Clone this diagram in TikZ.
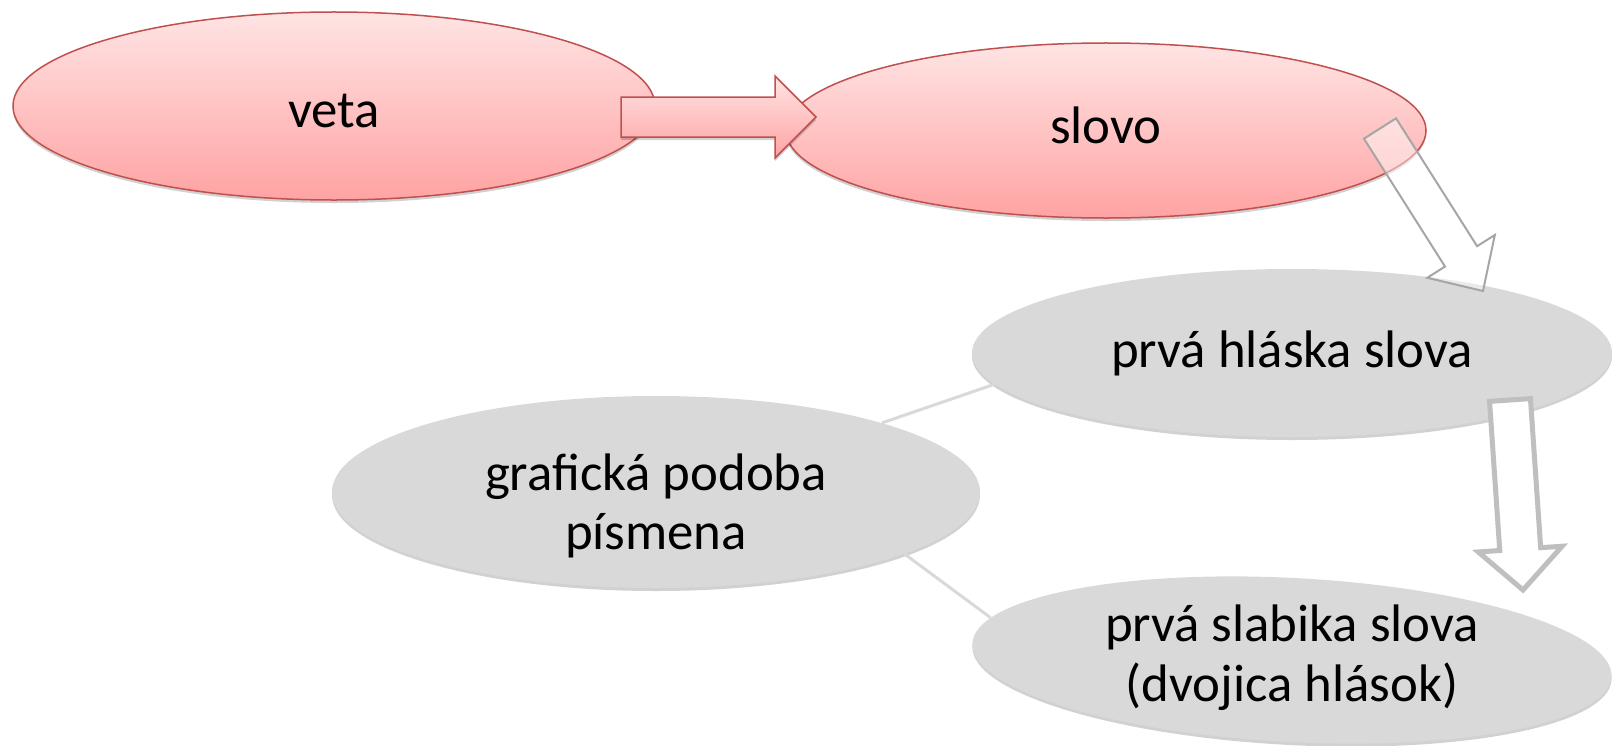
\documentclass[tikz,border=0pt]{standalone}
\usepackage{fontspec}
\setmainfont{Carlito}
\usetikzlibrary{calc,shapes.geometric,shadows}
\definecolor{pinktop}{RGB}{255,228,228}
\definecolor{pinkbot}{RGB}{255,163,163}
\definecolor{redline}{RGB}{192,80,77}
\definecolor{grayfill}{RGB}{217,217,217}
\definecolor{arrgray}{RGB}{166,166,166}
\definecolor{arrgrayb}{RGB}{191,191,191}
\definecolor{linkgray}{RGB}{217,217,217}
% block arrow: style, start, end, shaft half-width, head half-width, head length
\newcommand\blockarr[6]{%
  \coordinate (#2-hb) at ($(#3)!#6!(#2)$);
  \path[#1] ($(#2)!#4!90:(#3)$) -- ($(#2-hb)!#4!-90:(#2)$) -- ($(#2-hb)!#5!-90:(#2)$)
    -- (#3) -- ($(#2-hb)!#5!90:(#2)$) -- ($(#2-hb)!#4!90:(#2)$) -- ($(#2)!#4!-90:(#3)$) -- cycle;}
\tikzset{
  softshadow/.style={drop shadow={shadow xshift=0bp, shadow yshift=-1.5bp, opacity=0.18, fill=black}},
  lbl/.style={font=\fontsize{26.5}{30}\selectfont, align=center, text=black, inner sep=0pt},
  pinkell/.style={ellipse, draw=redline, line width=0.75bp, top color=pinktop, bottom color=pinkbot, inner sep=0pt, softshadow},
  grayell/.style={ellipse, fill=grayfill, inner sep=0pt, softshadow},
  redarrow/.style={draw=redline, line width=0.75bp, top color=pinktop, bottom color=pinkbot, softshadow},
  hollowthin/.style={draw=arrgray, line width=1bp, fill=white, fill opacity=0.45},
  hollowthick/.style={draw=arrgrayb, line width=2.5bp, fill=white},
  linkline/.style={draw=linkgray, line width=1.5bp}
}
\begin{document}
\begin{tikzpicture}[x=0.5bp, y=-0.5bp]
\useasboundingbox (0,0) rectangle (1612,746);
% ellipses
\node[pinkell, minimum width=321bp, minimum height=94bp,
  label={[lbl, yshift=-2.6bp]center:veta}] (veta) at (334,106) {};
\node[pinkell, minimum width=320bp, minimum height=87.5bp,
  label={[lbl, yshift=2.6bp]center:slovo}] (slovo) at (1106,130.5) {};
\node[grayell, minimum width=320bp, minimum height=84bp,
  label={[lbl]center:prvá hláska slova}] (hlaska) at (1292,353) {};
\node[grayell, minimum width=324bp, minimum height=96bp,
  label={[lbl, yshift=-7bp]center:{grafická podoba\\písmena}}] (graf) at (656,492) {};
\node[grayell, minimum width=320bp, minimum height=82bp, rotate=-3,
  label={[lbl, yshift=1bp]center:{prvá slabika slova\\(dvojica hlások)}}] (slabika) at (1292,660) {};
% links
\draw[linkline] (graf.17) -- (hlaska.186);
\draw[linkline] (graf.346) -- (slabika.175);
% block arrows
\coordinate (r1s) at (621,117);
\coordinate (r1e) at (816,117);
\blockarr{redarrow}{r1s}{r1e}{10bp}{20.5bp}{20.5bp}
\coordinate (g1s) at (1380,128.5);
\coordinate (g1e) at (1483,291);
\blockarr{hollowthin}{g1s}{g1e}{9.5bp}{20bp}{20.5bp}
\coordinate (g2s) at (1510,400);
\coordinate (g2e) at (1523,590);
\blockarr{hollowthick}{g2s}{g2e}{10.25bp}{21bp}{20.5bp}
\end{tikzpicture}
\end{document}
